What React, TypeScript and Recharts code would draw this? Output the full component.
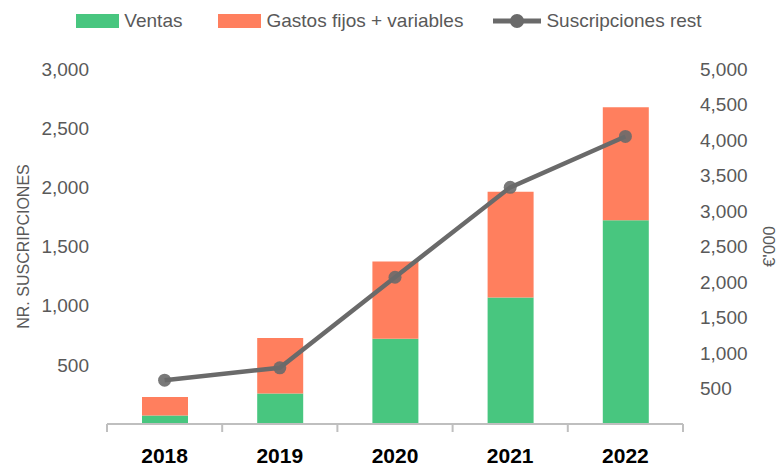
import React from 'react';
import { ComposedChart, Bar, Line, XAxis, YAxis } from 'recharts';

// años y series
const years = ['2018', '2019', '2020', '2021', '2022'];
const ventas = [120, 430, 1200, 1780, 2870];
const gastos = [260, 780, 1090, 1490, 1590];
const suscripciones = [370, 475, 1240, 2000, 2430];

const leftTicks = [500, 1000, 1500, 2000, 2500, 3000];
const rightTicks = [500, 1000, 1500, 2000, 2500, 3000, 3500, 4000, 4500, 5000];

const seriesNames = {
    ventas: 'Ventas',
    gastos: 'Gastos fijos + variables',
    suscripciones: 'Suscripciones rest',
};

const GREEN = '#48C67F';
const ORANGE = '#FF7F5E';
const GREY = '#6A6A6A';
const AXIS = '#BFBFBF';
const LABEL = '#595959';

const data = years.map((year, i) => ({
    year,
    ventas: ventas[i],
    gastos: gastos[i],
    suscripciones: suscripciones[i],
}));

const fmt = (v: number) => v.toLocaleString('en-US');

const YearTick = (props: any) => {
    const { x, y, payload, index, visibleTicksCount } = props;
    const half = payload?.offset ?? 0;
    return (
        <g>
            <line x1={x - half} x2={x - half} y1={y} y2={y + 8} stroke={AXIS} strokeWidth={2} />
            {index === visibleTicksCount - 1 && (
                <line x1={x + half} x2={x + half} y1={y} y2={y + 8} stroke={AXIS} strokeWidth={2} />
            )}
            <text
                x={x}
                y={y + 31}
                textAnchor="middle"
                dominantBaseline="central"
                fontWeight="bold"
                fontSize={21}
                fill="#000"
            >
                {payload.value}
            </text>
        </g>
    );
};

const LegendRow = () => (
    <div
        style={{
            position: 'absolute',
            top: 9,
            left: 0,
            width: 778,
            display: 'flex',
            justifyContent: 'center',
            alignItems: 'center',
            fontSize: 19,
            color: LABEL,
            lineHeight: '24px',
        }}
    >
        <span style={{ display: 'flex', alignItems: 'center', marginRight: 36 }}>
            <span style={{ width: 43, height: 14, background: GREEN, marginRight: 5 }} />
            {seriesNames.ventas}
        </span>
        <span style={{ display: 'flex', alignItems: 'center', marginRight: 30 }}>
            <span style={{ width: 43, height: 14, background: ORANGE, marginRight: 5 }} />
            {seriesNames.gastos}
        </span>
        <span style={{ display: 'flex', alignItems: 'center' }}>
            <svg width={48} height={16} style={{ marginRight: 5 }}>
                <line x1={0} x2={48} y1={8} y2={8} stroke={GREY} strokeWidth={5} />
                <circle cx={24} cy={8} r={7} fill={GREY} />
            </svg>
            {seriesNames.suscripciones}
        </span>
    </div>
);

export default function App() {
    return (
        <div
            style={{
                position: 'relative',
                width: 778,
                height: 466,
                fontFamily: "'Liberation Sans', Arial, sans-serif",
                background: '#fff',
            }}
        >
            <style>{'body{margin:0}'}</style>
            <ComposedChart
                width={778}
                height={466}
                data={data}
                margin={{ top: 69, right: 0, bottom: 0, left: 0 }}
            >
                <XAxis
                    dataKey="year"
                    height={42}
                    axisLine={{ stroke: AXIS, strokeWidth: 2 }}
                    tickLine={false}
                    tickSize={0}
                    tickMargin={0}
                    tick={<YearTick />}
                    interval={0}
                />
                <YAxis
                    yAxisId="left"
                    orientation="left"
                    width={107}
                    domain={[0, 3000]}
                    ticks={leftTicks}
                    tickFormatter={fmt}
                    axisLine={false}
                    tickLine={false}
                    tickSize={0}
                    tickMargin={18}
                    tick={{ fill: LABEL, fontSize: 19 }}
                    label={{
                        value: 'NR. SUSCRIPCIONES',
                        angle: -90,
                        position: 'insideLeft',
                        offset: 23,
                        style: { textAnchor: 'middle', fill: LABEL, fontSize: 16 },
                    }}
                />
                <YAxis
                    yAxisId="right"
                    orientation="right"
                    width={95}
                    domain={[0, 5000]}
                    ticks={rightTicks}
                    tickFormatter={fmt}
                    axisLine={false}
                    tickLine={false}
                    tickSize={0}
                    tickMargin={17}
                    tick={{ fill: LABEL, fontSize: 19, textAnchor: 'start' }}
                    label={{
                        value: "€'000",
                        angle: -90,
                        position: 'insideRight',
                        offset: 9,
                        style: { textAnchor: 'middle', fill: LABEL, fontSize: 17 },
                    }}
                />
                <Bar
                    yAxisId="right"
                    dataKey="ventas"
                    name={seriesNames.ventas}
                    stackId="a"
                    fill={GREEN}
                    barSize={46}
                    isAnimationActive={false}
                />
                <Bar
                    yAxisId="right"
                    dataKey="gastos"
                    name={seriesNames.gastos}
                    stackId="a"
                    fill={ORANGE}
                    barSize={46}
                    isAnimationActive={false}
                />
                <Line
                    yAxisId="left"
                    dataKey="suscripciones"
                    name={seriesNames.suscripciones}
                    stroke={GREY}
                    strokeWidth={4.5}
                    dot={{ r: 6.5, fill: GREY, stroke: 'none', fillOpacity: 0.9 }}
                    activeDot={false}
                    isAnimationActive={false}
                />
            </ComposedChart>
            <LegendRow />
        </div>
    );
}
